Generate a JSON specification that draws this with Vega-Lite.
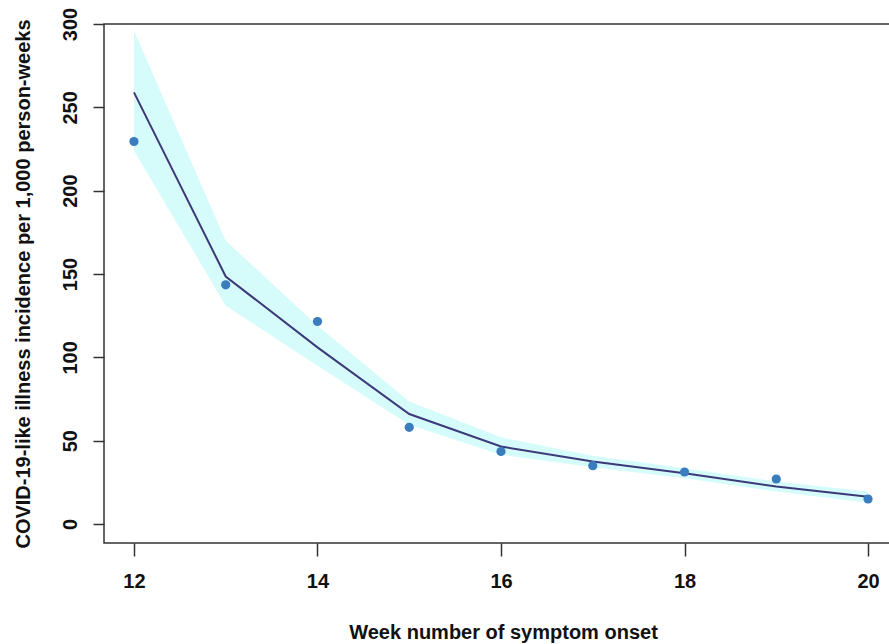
{
  "$schema": "https://vega.github.io/schema/vega-lite/v6.json",
  "autosize": {"type": "none"},
  "padding": {"left": 104, "top": 24, "right": 0, "bottom": 101},
  "width": 794,
  "height": 519,
  "background": "white",
  "config": {
    "view": {"stroke": "#333333", "strokeWidth": 1.5},
    "axis": {
      "grid": false,
      "domain": false,
      "tickColor": "#333333",
      "tickWidth": 1.5,
      "labelFont": "Liberation Sans",
      "labelFontWeight": "bold",
      "labelFontSize": 20,
      "labelColor": "#111111",
      "titleFont": "Liberation Sans",
      "titleFontWeight": "bold",
      "titleFontSize": 20,
      "titleColor": "#111111"
    }
  },
  "data": {
    "values": [
      {"week": 12, "obs": 229.5, "fit": 259, "lo": 224, "hi": 296},
      {"week": 13, "obs": 143.5, "fit": 148.5, "lo": 131, "hi": 170},
      {"week": 14, "obs": 121.5, "fit": 106, "lo": 95, "hi": 119},
      {"week": 15, "obs": 58, "fit": 66, "lo": 59.5, "hi": 73.5},
      {"week": 16, "obs": 43.5, "fit": 46.5, "lo": 41.5, "hi": 52},
      {"week": 17, "obs": 35, "fit": 37.5, "lo": 34, "hi": 41},
      {"week": 18, "obs": 31.2, "fit": 30.5, "lo": 27.5, "hi": 33.5},
      {"week": 19, "obs": 27, "fit": 22.5, "lo": 19.5, "hi": 25.5},
      {"week": 20, "obs": 15, "fit": 16.3, "lo": 12.8, "hi": 19.5}
    ]
  },
  "encoding": {
    "x": {
      "field": "week",
      "type": "quantitative",
      "scale": {"domain": [11.6735, 20.3265], "nice": false, "zero": false},
      "axis": {
        "values": [12, 14, 16, 18, 20],
        "tickSize": 13,
        "labelPadding": 15,
        "labelBaseline": "top",
        "labelAngle": 0,
        "title": "Week number of symptom onset",
        "titleX": 399,
        "titleY": 95,
        "titleAlign": "center",
        "titleBaseline": "alphabetic"
      }
    }
  },
  "layer": [
    {
      "mark": {"type": "area", "color": "#d6fbfb", "opacity": 1},
      "encoding": {
        "y": {
          "field": "lo",
          "type": "quantitative",
          "scale": {"domain": [-11.4, 300], "nice": false, "zero": false},
          "axis": {
            "values": [0, 50, 100, 150, 200, 250, 300],
            "tickSize": 11,
            "labelPadding": 17,
            "labelAngle": 270,
            "labelAlign": "center",
            "labelBaseline": "alphabetic",
            "title": "COVID-19-like illness incidence per 1,000 person-weeks",
            "titleAngle": 270,
            "titleX": -75,
            "titleY": 259.5,
            "titleAlign": "center",
            "titleBaseline": "alphabetic"
          }
        },
        "y2": {"field": "hi"}
      }
    },
    {
      "mark": {"type": "line", "color": "#3c3a78", "strokeWidth": 2},
      "encoding": {
        "y": {"field": "fit", "type": "quantitative"}
      }
    },
    {
      "mark": {"type": "point", "filled": true, "shape": "circle", "size": 85, "color": "#3a7dbe", "opacity": 1},
      "encoding": {
        "y": {"field": "obs", "type": "quantitative"}
      }
    }
  ]
}
